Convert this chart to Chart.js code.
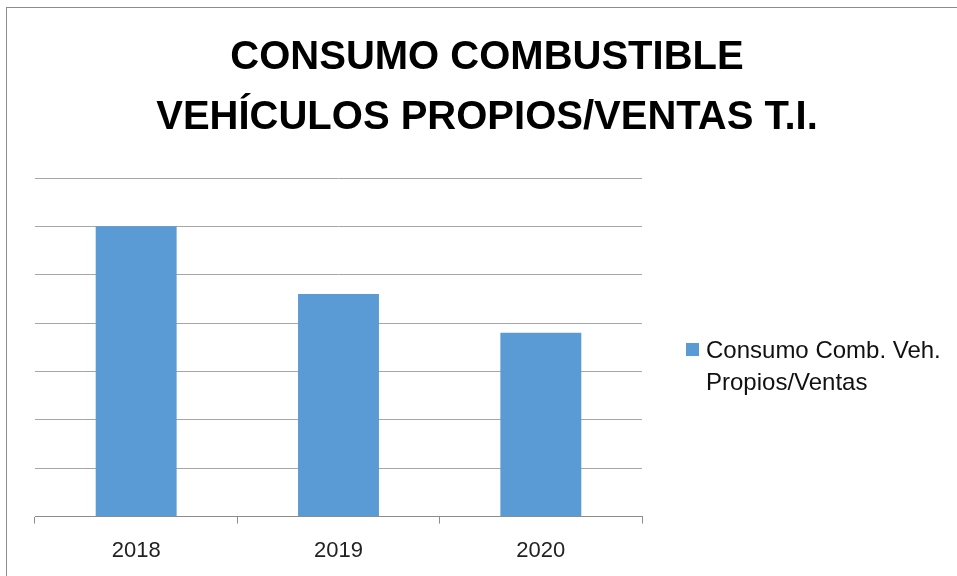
<!DOCTYPE html>
<html>
<head>
<meta charset="utf-8">
<script src="https://cdn.jsdelivr.net/npm/chart.js@4/dist/chart.umd.min.js"></script>
<style>
  body { margin: 0; background: #fff; }
  #wrap { position: relative; width: 957px; height: 576px; }
  #frame { position: absolute; left: 6px; top: 7px; width: 960px; height: 600px;
           border-left: 1px solid #8c8c8c; border-top: 1px solid #8c8c8c; }
  #legend { position: absolute; left: 686px; top: 334px; font-family: 'Liberation Sans', sans-serif;
            font-size: 24px; line-height: 32px; color: #111; }
  #legend .box { position: absolute; left: 0; top: 9px; width: 13px; height: 13px; }
  #legend .txt { position: absolute; left: 20px; top: 0; white-space: nowrap; }
</style>
</head>
<body>
<div id="wrap">
  <canvas id="myChart" width="957" height="576"></canvas>
  <div id="frame"></div>
  <div id="legend"></div>
</div>
<script>
const years = ['2018', '2019', '2020'];
const consumo = [6, 4.6, 3.8];
const seriesLabel = ['Consumo Comb. Veh.', 'Propios/Ventas'];
const titleLines = ['CONSUMO COMBUSTIBLE', 'VEHÍCULOS PROPIOS/VENTAS T.I.'];
const barColor = '#5b9bd5';

const data = {
  labels: years,
  datasets: [{
    label: seriesLabel.join(' '),
    data: consumo,
    backgroundColor: barColor,
    borderWidth: 0,
    barPercentage: 0.4,
    categoryPercentage: 1
  }]
};

const config = {
  type: 'bar',
  data: data,
  options: {
    responsive: false,
    animation: false,
    layout: { padding: { left: 17, right: 0, top: 0, bottom: -2 } },
    plugins: {
      legend: { display: false },
      tooltip: { enabled: false },
      title: {
        display: true,
        text: titleLines,
        color: '#000',
        font: { family: 'Liberation Sans', size: 40, weight: 'bold', lineHeight: 1.5 },
        padding: { top: 28, bottom: 30 }
      }
    },
    scales: {
      x: {
        grid: { drawOnChartArea: false, drawTicks: true, tickLength: 7, color: '#8c8c8c', offset: true },
        border: { color: '#8c8c8c' },
        ticks: { color: '#222', font: { family: 'Liberation Sans', size: 22 }, padding: 14 }
      },
      y: {
        min: 0,
        max: 7,
        ticks: { display: false, stepSize: 1 },
        grid: { color: '#a6a6a6', drawTicks: false },
        border: { display: false },
        afterFit: function (scale) { scale.width = 18; }
      },
      y2: {
        position: 'right',
        display: true,
        grid: { display: false },
        border: { display: false },
        ticks: { display: false },
        afterFit: function (scale) { scale.width = 315; }
      }
    }
  }
};

const myChart = new Chart(document.getElementById('myChart').getContext('2d'), config);

// legend drawn as html, next to the plot
const legend = document.getElementById('legend');
legend.innerHTML = '<div class="box" style="background:' + barColor + '"></div>' +
  '<div class="txt">' + seriesLabel.join('<br>') + '</div>';
</script>
</body>
</html>
